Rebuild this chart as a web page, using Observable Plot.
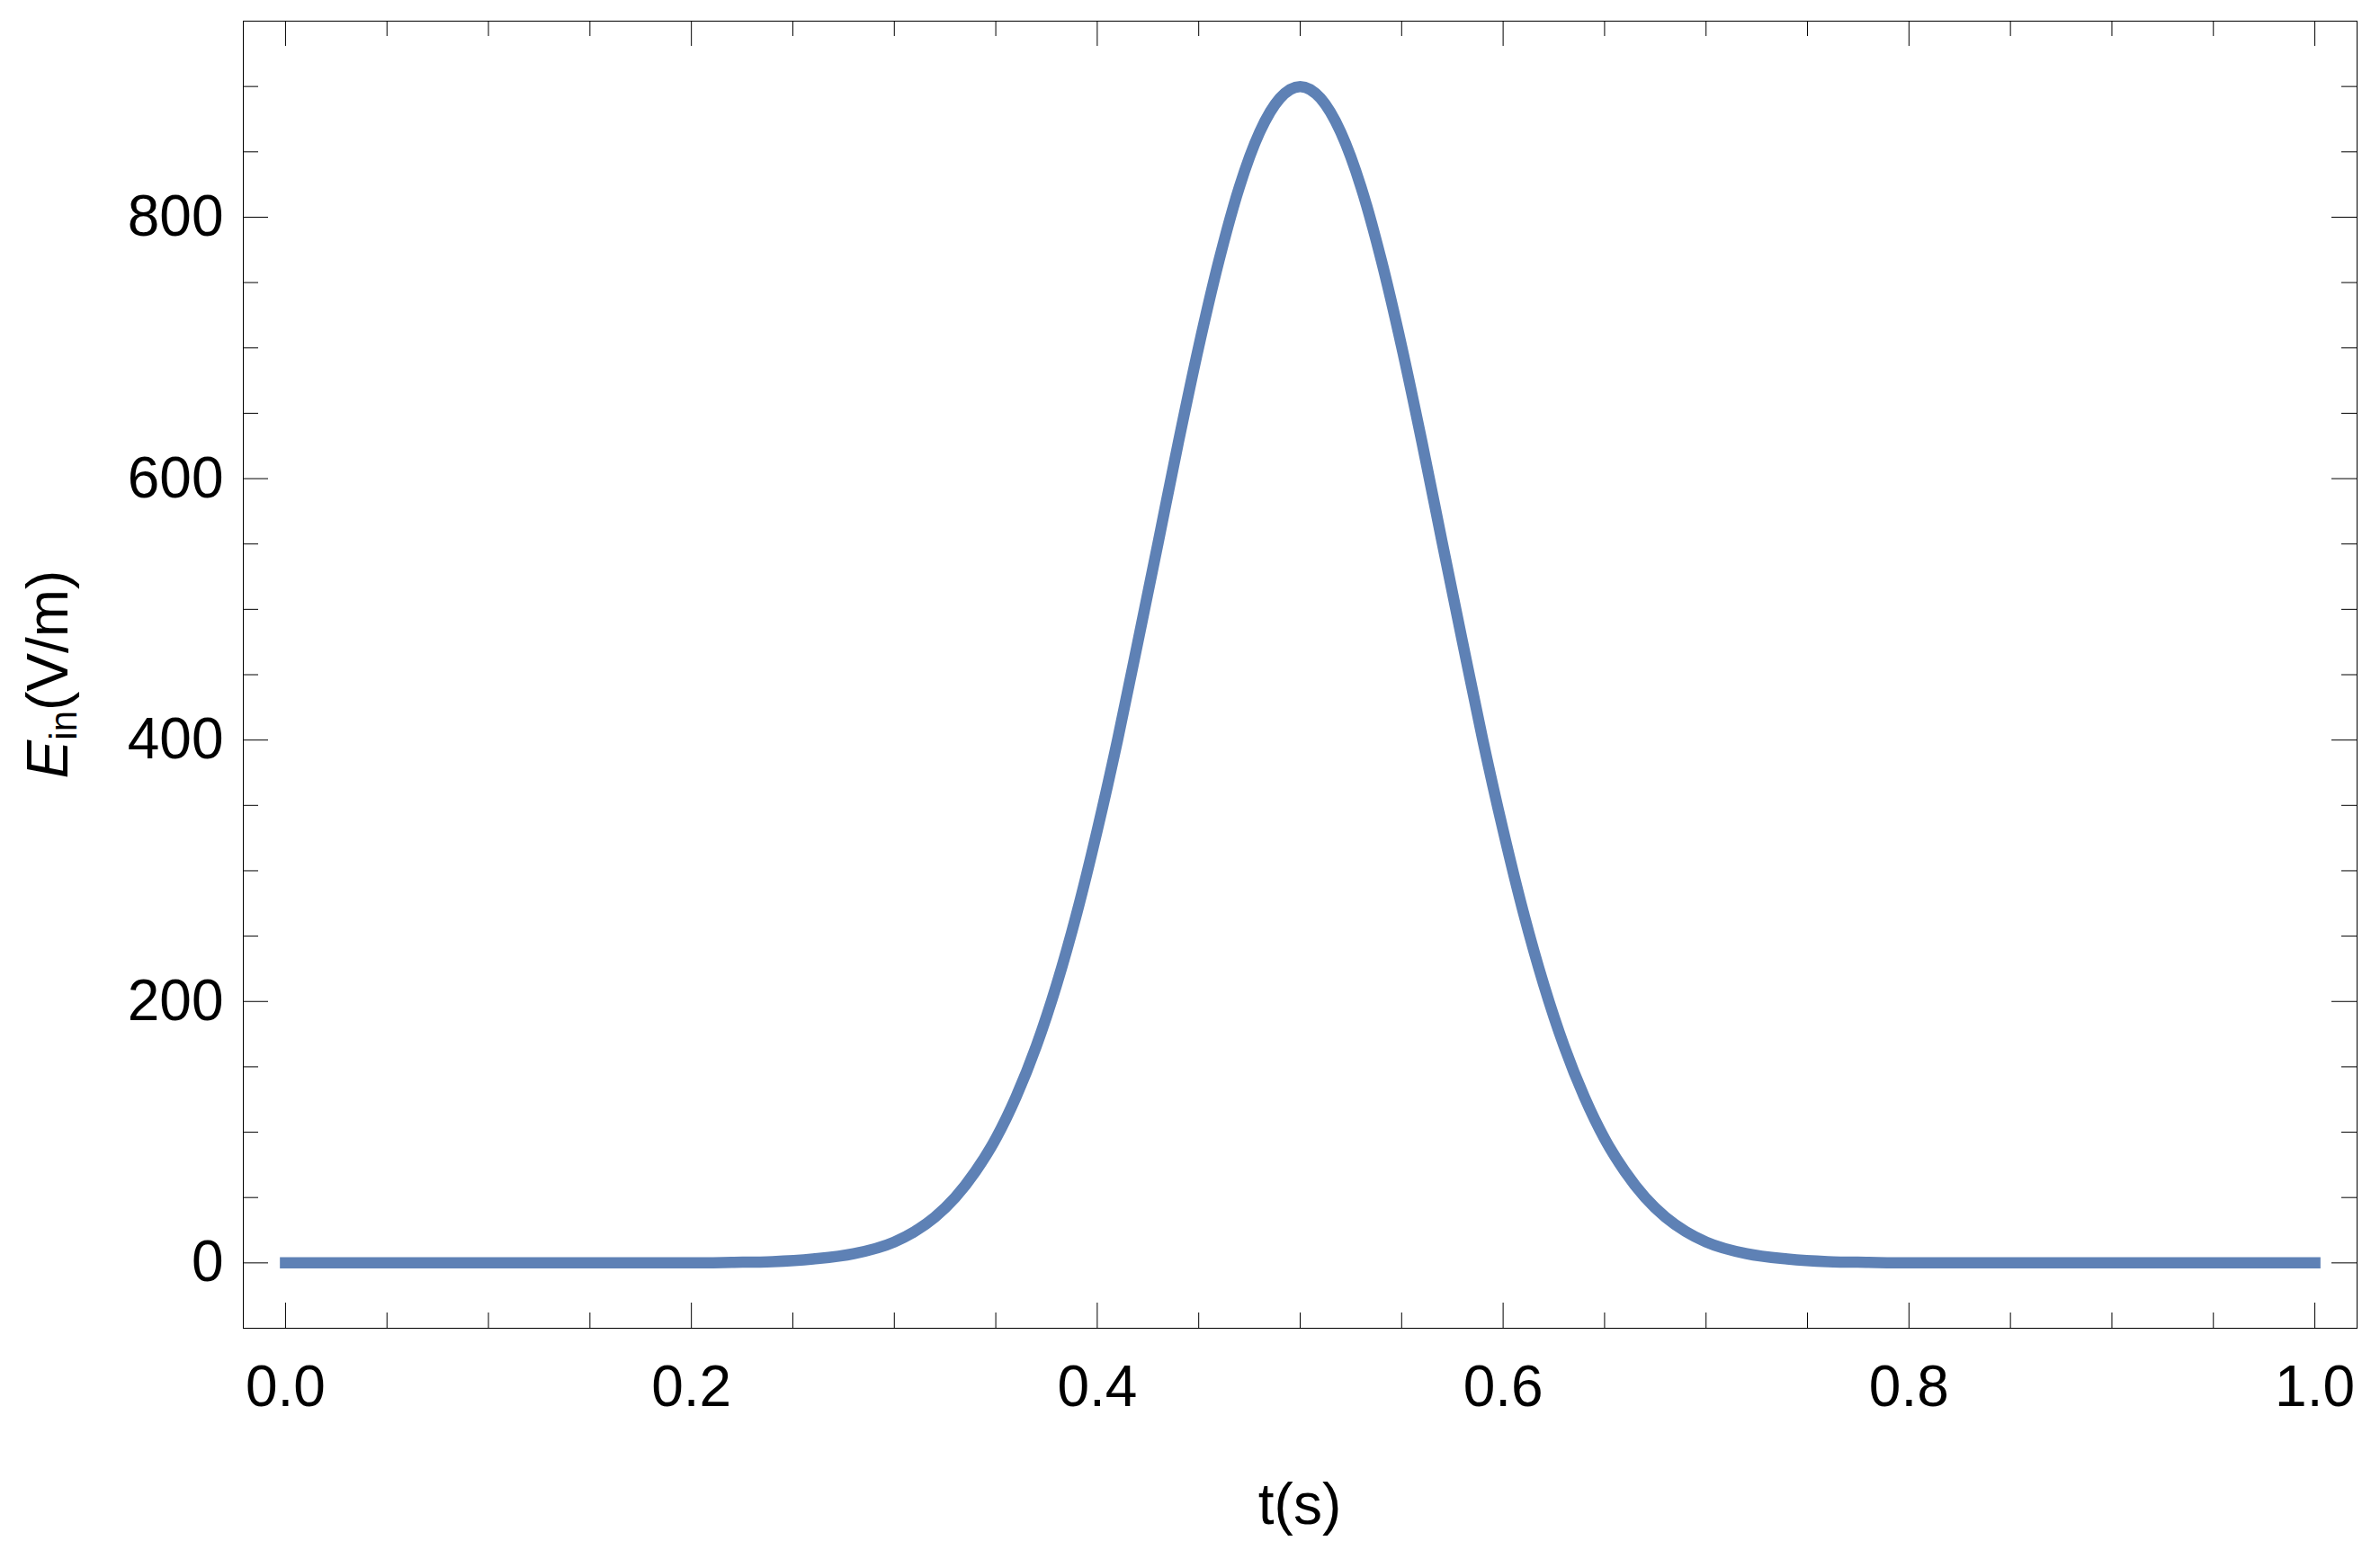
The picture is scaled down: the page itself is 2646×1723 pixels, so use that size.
<!DOCTYPE html>
<html>
<head>
<meta charset="utf-8">
<script src="https://cdn.jsdelivr.net/npm/d3@7"></script>
<script src="https://cdn.jsdelivr.net/npm/@observablehq/plot@0.6"></script>
<style>
  html, body { margin: 0; padding: 0; background: #fff; overflow: hidden; }
</style>
</head>
<body>
<div id="chart"></div>
<script>
// ---- Data ----
const tValues = [
  0.00, 0.02, 0.04, 0.06, 0.08, 0.10, 0.12, 0.14, 0.16, 0.18, 0.20,
  0.22, 0.24, 0.26, 0.28,
  0.30, 0.31, 0.32, 0.33, 0.34, 0.35, 0.36, 0.37, 0.38, 0.39,
  0.40, 0.41, 0.42, 0.43, 0.44, 0.45, 0.46, 0.47, 0.48, 0.49,
  0.50, 0.51, 0.52, 0.53, 0.54, 0.55, 0.56, 0.57, 0.58, 0.59,
  0.60, 0.61, 0.62, 0.63, 0.64, 0.65, 0.66, 0.67, 0.68, 0.69,
  0.70, 0.72, 0.74, 0.76, 0.78, 0.80,
  0.82, 0.84, 0.86, 0.88, 0.90, 0.92, 0.94, 0.96, 0.98, 1.00
];
const eValues = [
  0, 0, 0, 0, 0, 0, 0, 0, 0, 0, 0,
  0.4, 1, 3, 7,
  16, 24, 35, 50, 70, 95, 127, 166, 213, 268,
  331, 400, 475, 551, 628, 701, 767, 823, 865, 891,
  900, 891, 865, 823, 767, 701, 628, 551, 475, 400,
  331, 268, 213, 166, 127, 95, 70, 50, 35, 24,
  16, 7, 3, 1, 0.4, 0,
  0, 0, 0, 0, 0, 0, 0, 0, 0, 0
];
const xMajorTicks = [0, 0.2, 0.4, 0.6, 0.8, 1.0];
const xMinorTicks = [0.05, 0.1, 0.15, 0.25, 0.3, 0.35, 0.45, 0.5, 0.55, 0.65, 0.7, 0.75, 0.85, 0.9, 0.95];
const yMajorTicks = [0, 200, 400, 600, 800];
const yMinorTicks = [50, 100, 150, 250, 300, 350, 450, 500, 550, 650, 700, 750, 850, 900];
const xDomain = [-0.0208, 1.0208];
const yDomain = [-50, 950];
const xTitle = "t(s)";
const yTitleMain = "E";
const yTitleSub = "in";
const yTitleUnit = "(V/m)";

// ---- Layout ----
const W = 2646, H = 1723;
const mL = 270, mR = 26, mT = 23, mB = 247;
const frameW = W - mL - mR, frameH = H - mT - mB;
const majorLen = 28, minorLen = 17;
const font = "'Liberation Sans', Arial, Helvetica, sans-serif";
const lineColor = "#5E81B5";

const data = tValues.map((t, i) => ({t, E: eValues[i]}));

const svgNode = Plot.plot({
  width: W,
  height: H,
  marginLeft: mL, marginRight: mR, marginTop: mT, marginBottom: mB,
  style: {fontFamily: font, fontSize: "64px", background: "white", color: "black", overflow: "visible"},
  x: {domain: xDomain, ticks: xMajorTicks, tickFormat: d3.format(".1f"), tickSize: 0, tickPadding: 41, label: null},
  y: {domain: yDomain, ticks: yMajorTicks, tickFormat: d => String(d), tickSize: 0, tickPadding: 22, label: null},
  marks: [
    // bottom ticks (inward)
    Plot.ruleX(xMajorTicks, {x: d => d, insetTop: frameH - majorLen, stroke: "black"}),
    Plot.ruleX(xMinorTicks, {x: d => d, insetTop: frameH - minorLen, stroke: "black"}),
    // top ticks
    Plot.ruleX(xMajorTicks, {x: d => d, insetBottom: frameH - majorLen, stroke: "black"}),
    Plot.ruleX(xMinorTicks, {x: d => d, insetBottom: frameH - minorLen, stroke: "black"}),
    // left ticks
    Plot.ruleY(yMajorTicks, {y: d => d, insetRight: frameW - majorLen, stroke: "black"}),
    Plot.ruleY(yMinorTicks, {y: d => d, insetRight: frameW - minorLen, stroke: "black"}),
    // right ticks
    Plot.ruleY(yMajorTicks, {y: d => d, insetLeft: frameW - majorLen, stroke: "black"}),
    Plot.ruleY(yMinorTicks, {y: d => d, insetLeft: frameW - minorLen, stroke: "black"}),
    Plot.line(data, {x: "t", y: "E", stroke: lineColor, strokeWidth: 12.5, strokeLinecap: "square", strokeLinejoin: "round", curve: "monotone-x"}),
    Plot.frame({stroke: "black", strokeWidth: 1})
  ]
});

document.getElementById("chart").appendChild(svgNode);

const svg = d3.select(svgNode);

// x axis title
svg.append("text")
  .attr("x", mL + frameW / 2)
  .attr("y", 1694)
  .attr("text-anchor", "middle")
  .style("font-family", font)
  .style("font-size", "64px")
  .attr("fill", "black")
  .text(xTitle);

// y axis title with italic E and subscript "in"
const yt = svg.append("text")
  .attr("transform", `translate(75,${mT + frameH / 2}) rotate(-90)`)
  .attr("text-anchor", "middle")
  .style("font-family", font)
  .style("font-size", "64px")
  .attr("fill", "black");
yt.append("tspan").style("font-style", "italic").text(yTitleMain);
yt.append("tspan").style("font-size", "42px").attr("dy", 10).text(yTitleSub);
yt.append("tspan").attr("dy", -10).text(yTitleUnit);
</script>
</body>
</html>
